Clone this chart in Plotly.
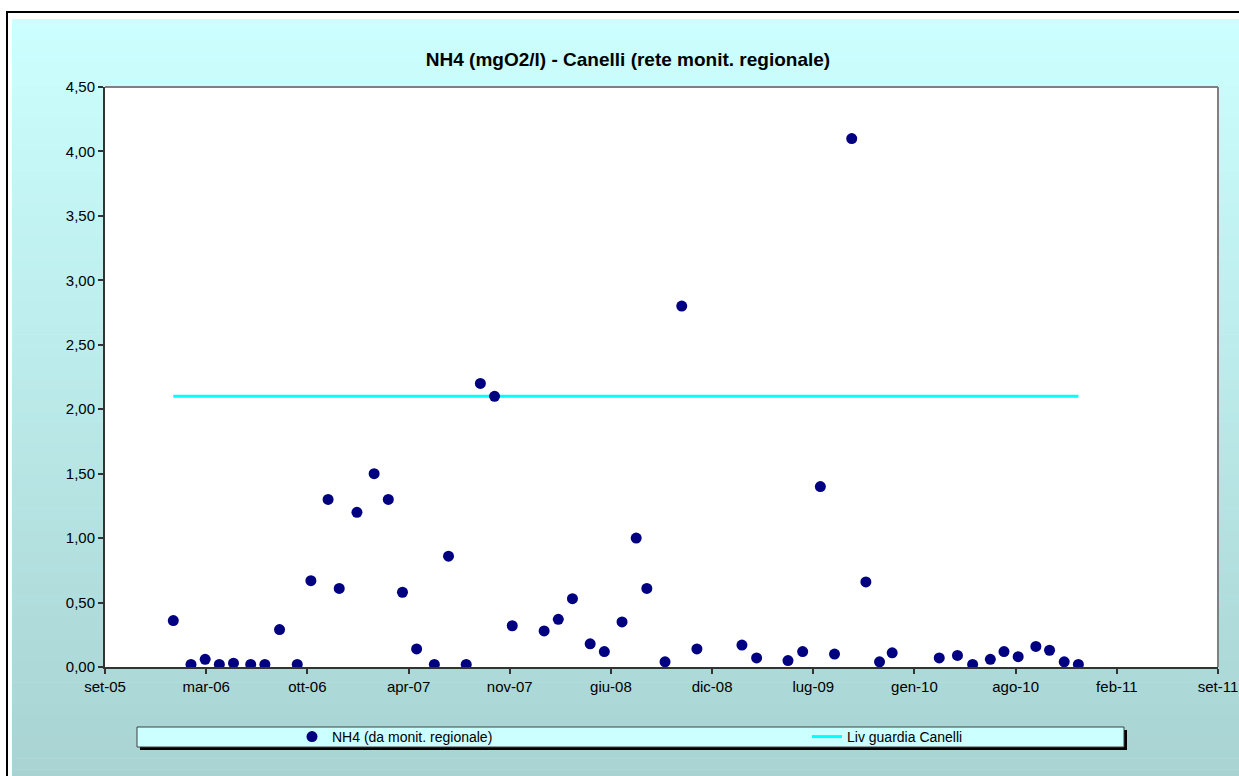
import plotly.graph_objects as go

# ---------------- data ----------------
dates = [
    "2006-01-18", "2006-02-22", "2006-03-22", "2006-04-19", "2006-05-17", "2006-06-20",
    "2006-07-18", "2006-08-16", "2006-09-20", "2006-10-17", "2006-11-20", "2006-12-12",
    "2007-01-16", "2007-02-19", "2007-03-19", "2007-04-16", "2007-05-14", "2007-06-18",
    "2007-07-16", "2007-08-20", "2007-09-17", "2007-10-15", "2007-11-19", "2008-01-21",
    "2008-02-18", "2008-03-17", "2008-04-21", "2008-05-19", "2008-06-23", "2008-07-21",
    "2008-08-11", "2008-09-16", "2008-10-19", "2008-11-18", "2009-02-15", "2009-03-16",
    "2009-05-17", "2009-06-15", "2009-07-20", "2009-08-17", "2009-09-20", "2009-10-18",
    "2009-11-14", "2009-12-09", "2010-03-12", "2010-04-17", "2010-05-17", "2010-06-21",
    "2010-07-18", "2010-08-15", "2010-09-19", "2010-10-16", "2010-11-14", "2010-12-12",
]
nh4 = [
    0.36, 0.02, 0.06, 0.02, 0.03, 0.02,
    0.02, 0.29, 0.02, 0.67, 1.30, 0.61,
    1.20, 1.50, 1.30, 0.58, 0.14, 0.02,
    0.86, 0.02, 2.20, 2.10, 0.32, 0.28,
    0.37, 0.53, 0.18, 0.12, 0.35, 1.00,
    0.61, 0.04, 2.80, 0.14, 0.17, 0.07,
    0.05, 0.12, 1.40, 0.10, 4.10, 0.66,
    0.04, 0.11, 0.07, 0.09, 0.02, 0.06,
    0.12, 0.08, 0.16, 0.13, 0.04, 0.02,
]
guard_dates = ["2006-01-18", "2010-12-12"]
guard_values = [2.10, 2.10]

tick_dates = ["2005-09-05", "2006-03-24", "2006-10-10", "2007-04-28", "2007-11-14", "2008-06-01",
              "2008-12-18", "2009-07-06", "2010-01-22", "2010-08-10", "2011-02-26", "2011-09-14"]
tick_labels = ["set-05", "mar-06", "ott-06", "apr-07", "nov-07", "giu-08",
               "dic-08", "lug-09", "gen-10", "ago-10", "feb-11", "set-11"]

title_text = "NH4 (mgO2/l) - Canelli (rete monit. regionale)"
name_nh4 = "NH4 (da monit. regionale)"
name_guard = "Liv guardia Canelli"

# ---------------- layout helpers (pixel -> paper) ----------------
W, H = 1239, 776
PL, PR, PT, PB = 105, 1218, 87, 667


def px(x):
    return (x - PL) / (PR - PL)


def py(y):
    return (PB - y) / (PB - PT)


FONT = "Arial, 'Liberation Sans', sans-serif"

shapes = []
# background gradient (vertical)
top_c = (204, 255, 255)
bot_c = (168, 211, 210)
y_start, y_end = 19, 780
n = 70
for i in range(n):
    y0 = y_start + (y_end - y_start) * i / n
    y1 = y_start + (y_end - y_start) * (i + 1) / n + 0.6
    t = (i + 0.5) / n
    c = tuple(round(top_c[k] + (bot_c[k] - top_c[k]) * t) for k in range(3))
    shapes.append(dict(type="rect", xref="paper", yref="paper", layer="below",
                       x0=px(12), x1=px(1245), y0=py(y0), y1=py(y1),
                       fillcolor="rgb(%d,%d,%d)" % c, line=dict(width=0)))
# outer black border
shapes.append(dict(type="rect", xref="paper", yref="paper", layer="below",
                   x0=px(7), x1=px(1260), y0=py(12), y1=py(800),
                   line=dict(color="black", width=2), fillcolor="rgba(0,0,0,0)"))
# plot area
shapes.append(dict(type="rect", xref="paper", yref="paper", layer="below",
                   x0=0, x1=1, y0=0, y1=1, fillcolor="white", line=dict(width=0)))
shapes.append(dict(type="line", xref="paper", yref="paper", layer="below",
                   x0=0, x1=1, y0=1, y1=1, line=dict(color="#808080", width=2)))
shapes.append(dict(type="line", xref="paper", yref="paper", layer="below",
                   x0=1, x1=1, y0=0, y1=1, line=dict(color="#808080", width=2)))
# legend box with shadow
shapes.append(dict(type="rect", xref="paper", yref="paper", layer="below",
                   x0=px(140), x1=px(1127), y0=py(730), y1=py(750),
                   fillcolor="black", line=dict(width=0)))
shapes.append(dict(type="rect", xref="paper", yref="paper", layer="below",
                   x0=px(137), x1=px(1124), y0=py(727), y1=py(747),
                   fillcolor="#CCFFFF", line=dict(color="#404040", width=1)))

fig = go.Figure()
fig.add_trace(go.Scatter(x=guard_dates, y=guard_values, mode="lines", name=name_guard,
                         line=dict(color="#00FFFF", width=3), legend="legend2", showlegend=True))
fig.add_trace(go.Scatter(x=dates, y=nh4, mode="markers", name=name_nh4,
                         marker=dict(color="#000080", size=11, line=dict(width=0)),
                         legend="legend", showlegend=True))

fig.update_layout(
    width=W, height=H,
    showlegend=True,
    margin=dict(l=PL, r=W - PR, t=PT, b=H - PB, autoexpand=False),
    paper_bgcolor="white", plot_bgcolor="rgba(0,0,0,0)",
    separators=",.",
    font=dict(family=FONT, size=14, color="black"),
    title=dict(text="<b>" + title_text + "</b>", x=628 / W, xref="container", xanchor="center",
               y=1 - 59 / H, yref="container", yanchor="middle",
               font=dict(family=FONT, size=19, color="black")),
    xaxis=dict(type="date", range=[tick_dates[0], tick_dates[-1]],
               tickmode="array", tickvals=tick_dates, ticktext=tick_labels,
               showgrid=False, zeroline=False, showline=True, linecolor="#333333", linewidth=2,
               ticks="outside", ticklen=5, tickwidth=1.5, tickcolor="#333333",
               tickfont=dict(family=FONT, size=15, color="black")),
    yaxis=dict(range=[0, 4.5], tickmode="linear", tick0=0, dtick=0.5, tickformat=".2f",
               showgrid=False, zeroline=False, showline=True, linecolor="#333333", linewidth=2,
               ticks="outside", ticklen=5, tickwidth=1.5, tickcolor="#333333",
               tickfont=dict(family=FONT, size=15, color="black")),
    legend=dict(x=px(292), y=py(737), xanchor="left", yanchor="middle", orientation="h",
                bgcolor="rgba(0,0,0,0)", borderwidth=0,
                font=dict(family=FONT, size=14, color="black")),
    legend2=dict(x=px(807), y=py(737), xanchor="left", yanchor="middle", orientation="h",
                 bgcolor="rgba(0,0,0,0)", borderwidth=0,
                 font=dict(family=FONT, size=14, color="black")),
    shapes=shapes,
)

fig.write_html("out.html", config={"displayModeBar": False},
               post_script="document.body.style.margin='0px';")
